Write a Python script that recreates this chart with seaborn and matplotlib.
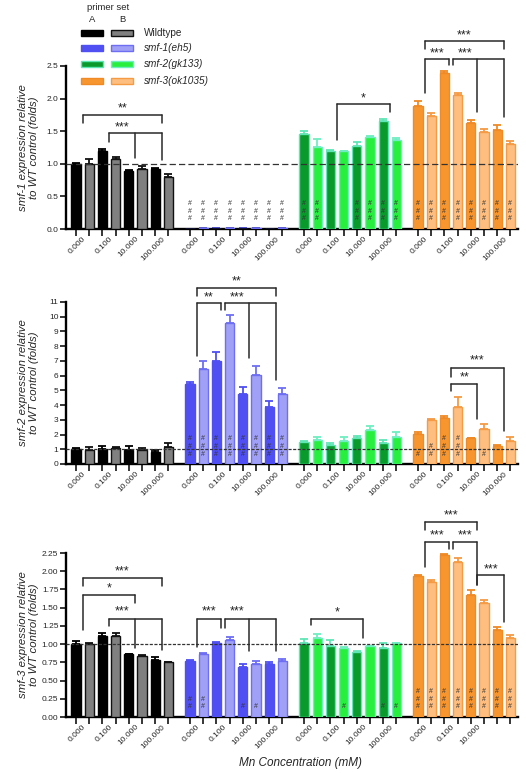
import numpy as np
import pandas as pd
import matplotlib
matplotlib.use("Agg")
import matplotlib.pyplot as plt
import seaborn as sns
from matplotlib.patches import Rectangle

sns.set_theme(style="ticks")
plt.rcParams['font.family'] = ['Liberation Sans', 'DejaVu Sans']

# ---------------- data ----------------
strains = ["Wildtype", "smf-1(eh5)", "smf-2(gk133)", "smf-3(ok1035)"]
primers = ["A", "B"]
conc_labels = ["0.000", "0.100", "10.000", "100.000"]
# bar order inside each strain: A 0.000, B 0.000, A 0.100, B 0.100, A 10, B 10, A 100, B 100

# panel 1: smf-1 expression
p1_wildtype = [1.00, 1.00, 1.20, 1.07, 0.89, 0.92, 0.925, 0.80]
p1_wildtype_sem = [0.01, 0.08, 0.03, 0.04, 0.01, 0.04, 0.01, 0.05]
p1_smf1 = [0.004, 0.008, 0.005, 0.012, 0.006, 0.010, 0.004, 0.009]
p1_smf1_sem = [0.003, 0.003, 0.003, 0.003, 0.003, 0.003, 0.003, 0.003]
p1_smf2 = [1.45, 1.25, 1.20, 1.19, 1.28, 1.41, 1.66, 1.37]
p1_smf2_sem = [0.05, 0.13, 0.01, 0.01, 0.05, 0.01, 0.03, 0.02]
p1_smf3 = [1.89, 1.73, 2.39, 2.06, 1.62, 1.49, 1.52, 1.30]
p1_smf3_sem = [0.07, 0.05, 0.03, 0.02, 0.05, 0.04, 0.07, 0.05]
p1_hashes = [[0] * 8, [3] * 8, [3, 3, 0, 0, 3, 3, 3, 3], [3] * 8]

# panel 2: smf-2 expression
p2_wildtype = [1.02, 0.98, 1.00, 1.06, 0.95, 0.95, 0.82, 1.18]
p2_wildtype_sem = [0.05, 0.20, 0.20, 0.07, 0.29, 0.15, 0.12, 0.22]
p2_smf1 = [5.43, 6.43, 7.01, 9.55, 4.73, 6.04, 3.85, 4.75]
p2_smf1_sem = [0.15, 0.58, 0.60, 0.58, 0.50, 0.60, 0.45, 0.40]
p2_smf2 = [1.47, 1.63, 1.29, 1.58, 1.79, 2.31, 1.45, 1.85]
p2_smf2_sem = [0.10, 0.22, 0.13, 0.27, 0.10, 0.29, 0.18, 0.30]
p2_smf3 = [2.04, 2.99, 3.10, 3.89, 1.74, 2.35, 1.22, 1.56]
p2_smf3_sem = [0.15, 0.05, 0.18, 0.68, 0.05, 0.34, 0.05, 0.29]
p2_hashes = [[0] * 8, [3] * 8, [0] * 8, [1, 2, 3, 3, 0, 1, 0, 0]]

# panel 3: smf-3 expression
p3_wildtype = [1.00, 1.005, 1.11, 1.11, 0.864, 0.84, 0.78, 0.75]
p3_wildtype_sem = [0.04, 0.01, 0.04, 0.04, 0.005, 0.01, 0.04, 0.005]
p3_smf1 = [0.77, 0.86, 1.01, 1.05, 0.68, 0.73, 0.73, 0.77]
p3_smf1_sem = [0.01, 0.02, 0.02, 0.05, 0.05, 0.04, 0.03, 0.02]
p3_smf2 = [1.02, 1.09, 0.97, 0.95, 0.89, 0.97, 0.95, 1.01]
p3_smf2_sem = [0.05, 0.05, 0.08, 0.01, 0.02, 0.01, 0.06, 0.01]
p3_smf3 = [1.934, 1.856, 2.22, 2.13, 1.67, 1.57, 1.19, 1.08]
p3_smf3_sem = [0.02, 0.02, 0.015, 0.045, 0.07, 0.035, 0.04, 0.045]
p3_hashes = [[0] * 8, [2, 2, 0, 0, 1, 1, 0, 0], [0, 0, 0, 1, 0, 0, 1, 1], [3] * 8]

# significance brackets: (strain index, start conc, [end concs], bar y, start leg bottom, [end leg bottoms], label, text y)
p1_brackets = [
    (0, 0, [3], 1.75, 1.63, [1.63], "**", 1.85),
    (0, 1, [2, 3], 1.47, 1.33, [1.09, 1.06], "***", 1.56),
    (2, 1, [3], 1.92, 1.37, [1.79], "*", 2.01),
    (3, 0, [3], 2.88, 2.76, [2.76], "***", 2.97),
    (3, 0, [1], 2.61, 2.08, [2.52], "***", 2.70),
    (3, 1, [2, 3], 2.61, 2.52, [1.80, 1.72], "***", 2.70),
]
p2_brackets = [
    (1, 0, [3], 11.97, 11.4, [11.4], "**", 12.42),
    (1, 0, [1], 10.91, 7.33, [10.45], "**", 11.30),
    (1, 1, [2, 3], 10.91, 10.45, [7.17, 5.70], "***", 11.30),
    (3, 1, [3], 6.54, 5.89, [2.26], "***", 7.00),
    (3, 1, [2], 5.41, 4.96, [3.03], "**", 5.87),
]
p3_brackets = [
    (0, 0, [3], 1.91, 1.80, [1.80], "***", 2.00),
    (0, 0, [2], 1.67, 1.19, [1.56], "*", 1.77),
    (0, 1, [2, 3], 1.35, 1.25, [0.94, 0.92], "***", 1.45),
    (1, 0, [1], 1.35, 0.965, [1.22], "***", 1.45),
    (1, 1, [2, 3], 1.35, 1.22, [0.90, 0.90], "***", 1.45),
    (2, 0, [2], 1.35, 1.26, [1.08], "*", 1.44),
    (3, 0, [2], 2.68, 2.57, [2.57], "***", 2.76),
    (3, 0, [1], 2.40, 2.06, [2.30], "***", 2.49),
    (3, 1, [2], 2.40, 2.30, [1.81], "***", 2.49),
    (3, 2, [3], 1.95, 1.81, [1.31], "***", 2.03),
]

fill_colors = {
    "Wildtype A": "#000000", "Wildtype B": "#808080",
    "smf-1(eh5) A": "#4f4ff2", "smf-1(eh5) B": "#a0a0f6",
    "smf-2(gk133) A": "#0a9a2c", "smf-2(gk133) B": "#28ee3e",
    "smf-3(ok1035) A": "#f7962e", "smf-3(ok1035) B": "#fdbe80",
}
edge_colors = {
    "Wildtype A": "#000000", "Wildtype B": "#111111",
    "smf-1(eh5) A": "#4f4ff2", "smf-1(eh5) B": "#6e6ef2",
    "smf-2(gk133) A": "#5fe6b5", "smf-2(gk133) B": "#70eec2",
    "smf-3(ok1035) A": "#f08a25", "smf-3(ok1035) B": "#f59b45",
}

GROUP_STEP = 8.64
W, H = 526, 773


def bar_pos(g, j):
    return g * GROUP_STEP + j


def pair_center(g, k):
    return g * GROUP_STEP + 2 * k + 0.5


def build_df(means, sems):
    rows = []
    for g, s in enumerate(strains):
        for j in range(8):
            rows.append({"pos": bar_pos(g, j), "value": means[g][j], "sem": sems[g][j],
                         "series": f"{s} {primers[j % 2]}"})
    return pd.DataFrame(rows)


def fig_rect(l, t, r, b):
    return [l / W, 1 - b / H, (r - l) / W, (b - t) / H]


fig = plt.figure(figsize=(W / 100, H / 100), dpi=100)

panels = [
    dict(rect=fig_rect(66, 66, 518, 229),
         means=[p1_wildtype, p1_smf1, p1_smf2, p1_smf3],
         sems=[p1_wildtype_sem, p1_smf1_sem, p1_smf2_sem, p1_smf3_sem],
         hashes=p1_hashes, brackets=p1_brackets, ylim=2.5,
         yticks=np.arange(0, 2.51, 0.5), fmt="{:.1f}", dash=(0, (5, 2.5)),
         ylabel="smf-1 expression relative\nto WT control (folds)", last_labels=4),
    dict(rect=fig_rect(66, 302, 518, 464),
         means=[p2_wildtype, p2_smf1, p2_smf2, p2_smf3],
         sems=[p2_wildtype_sem, p2_smf1_sem, p2_smf2_sem, p2_smf3_sem],
         hashes=p2_hashes, brackets=p2_brackets, ylim=11,
         yticks=np.arange(0, 12, 1), fmt="{:.0f}", dash=(0, (2.5, 1.2)),
         ylabel="smf-2 expression relative\nto WT control (folds)", last_labels=4),
    dict(rect=fig_rect(66, 553, 518, 717),
         means=[p3_wildtype, p3_smf1, p3_smf2, p3_smf3],
         sems=[p3_wildtype_sem, p3_smf1_sem, p3_smf2_sem, p3_smf3_sem],
         hashes=p3_hashes, brackets=p3_brackets, ylim=2.25,
         yticks=np.arange(0, 2.26, 0.25), fmt="{:.2f}", dash=(0, (2.5, 1.2)),
         ylabel="smf-3 expression relative\nto WT control (folds)", last_labels=3),
]

for P in panels:
    ax = fig.add_axes(P["rect"])
    df = build_df(P["means"], P["sems"])
    sns.barplot(data=df, x="pos", y="value", hue="series", palette=fill_colors,
                native_scale=True, dodge=False, errorbar=None, width=0.7,
                saturation=1, legend=False, linewidth=1.0, ax=ax, zorder=3)
    # per-bar edge colours
    for p in ax.patches:
        cx = p.get_x() + p.get_width() / 2
        i = int(np.argmin(np.abs(df["pos"].values - cx)))
        p.set_edgecolor(edge_colors[df["series"].iloc[i]])
    # upper error bars
    for s, sub in df.groupby("series"):
        ax.errorbar(sub["pos"], sub["value"], yerr=[np.zeros(len(sub)), sub["sem"]],
                    fmt="none", ecolor=edge_colors[s], elinewidth=1.3, capsize=2.8,
                    capthick=1.3, zorder=2)
    ax.axhline(1.0, color="#333333", lw=0.9, ls=P["dash"], zorder=4)

    # hash marks
    for g in range(4):
        for j in range(8):
            for k in range(P["hashes"][g][j]):
                ax.annotate("#", xy=(bar_pos(g, j), 0), xytext=(0, 10 + 7.8 * k),
                            textcoords="offset pixels", ha="center", va="center",
                            fontsize=5, color="#333333", zorder=5)

    # brackets
    br = P["brackets"]
    for (g, k0, ends, yb, b0, bends, lab, ty) in br:
        x0 = pair_center(g, k0)
        for (g2, k2, ends2, yb2, *_r) in br:
            if g2 == g and abs(yb2 - yb) < 1e-9 and k0 in ends2:
                x0 += 0.12
        xs = []
        for k in ends:
            x = pair_center(g, k)
            for (g2, k2, ends2, yb2, *_r) in br:
                if g2 == g and abs(yb2 - yb) < 1e-9 and k2 == k and k == ends[0] and k != k0:
                    x -= 0.12
            xs.append(x)
        kw = dict(color="#2a2a2a", lw=1.1, clip_on=False, zorder=6)
        ax.plot([x0, max(xs)], [yb, yb], **kw)
        ax.plot([x0, x0], [yb, b0], **kw)
        for x, bb in zip(xs, bends):
            ax.plot([x, x], [yb, bb], **kw)
        ax.text((x0 + xs[0]) / 2, ty, lab, ha="center", va="center", fontsize=9,
                color="#222222", clip_on=False, zorder=6)

    # axes styling
    ax.set_xlim(-0.76, 33.5)
    ax.set_ylim(0, P["ylim"])
    ax.set_yticks(P["yticks"])
    ax.set_yticklabels([P["fmt"].format(v) for v in P["yticks"]], fontsize=6)
    ax.set_xticks([bar_pos(g, j) for g in range(4) for j in range(8)])
    ax.set_xticklabels([])
    minor_pos = [pair_center(g, k) for g in range(4) for k in range(4)]
    minor_lab = [conc_labels[k] if (g < 3 or k < P["last_labels"]) else ""
                 for g in range(4) for k in range(4)]
    ax.set_xticks(minor_pos, minor=True)
    ax.set_xticklabels(minor_lab, minor=True, rotation=45, ha="right",
                       rotation_mode="anchor", fontsize=6)
    ax.tick_params(axis="x", which="major", length=5, width=1.3, direction="out")
    ax.tick_params(axis="x", which="minor", length=0, pad=4.5)
    ax.tick_params(axis="y", which="major", length=4, width=1.3, pad=1.5)
    ax.set_xlabel("")
    ax.set_ylabel(P["ylabel"], fontsize=8.2, fontstyle="italic", linespacing=1.15)
    ax.yaxis.set_label_coords(-0.06, 0.5)
    for sp in ["top", "right"]:
        ax.spines[sp].set_visible(False)
    for sp in ["left", "bottom"]:
        ax.spines[sp].set_linewidth(1.7)
        ax.spines[sp].set_color("black")

fig.text(300 / W, 1 - 763 / H, "Mn Concentration (mM)", ha="center", va="center",
         fontsize=8.5, fontstyle="italic")

# legend (primer set A/B swatches)
fig.text(108 / W, 1 - 7 / H, "primer set", ha="center", va="center", fontsize=6.8)
fig.text(92 / W, 1 - 20 / H, "A", ha="center", va="center", fontsize=6.8)
fig.text(122 / W, 1 - 20 / H, "B", ha="center", va="center", fontsize=6.8)
row_y = [33, 48, 64, 81]
for s, yy in zip(strains, row_y):
    for p, (x0, x1) in zip(primers, [(81, 103), (111, 133)]):
        key = f"{s} {p}"
        fig.add_artist(Rectangle((x0 / W, 1 - (yy + 3) / H), (x1 - x0) / W, 6 / H,
                                 transform=fig.transFigure, facecolor=fill_colors[key],
                                 edgecolor=edge_colors[key], lw=1.0))
    fig.text(144 / W, 1 - yy / H, s, ha="left", va="center", fontsize=7.2,
             fontstyle="normal" if s == "Wildtype" else "italic")

fig.savefig("out.png", dpi=100)
